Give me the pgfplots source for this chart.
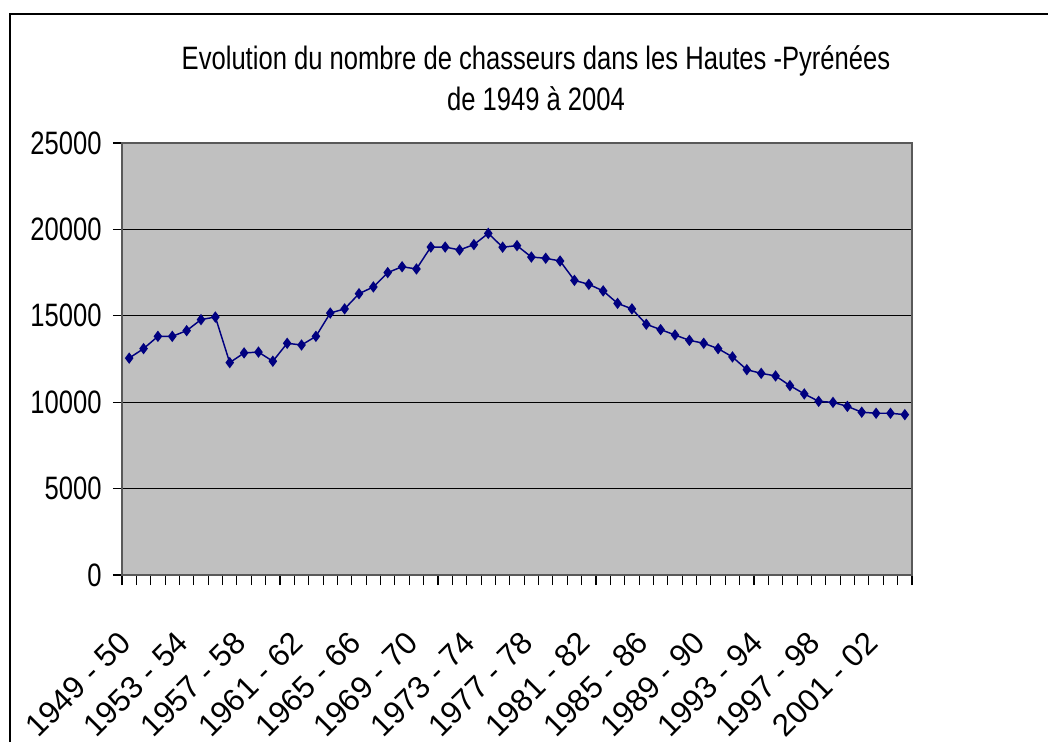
\documentclass[border=0pt]{standalone}
\usepackage{fontspec}
\setmainfont{Liberation Sans}[FakeStretch=0.79]
\newfontfamily\xlabfont{Liberation Sans}
\usepackage{pgfplots}
\pgfplotsset{compat=1.18}
\definecolor{navyline}{RGB}{0,0,128}
\definecolor{plotbg}{RGB}{192,192,192}
\begin{document}
\begin{tikzpicture}[x=0.75pt,y=0.75pt]
\useasboundingbox (0,0) rectangle (1048,742);
\fill[white] (0,0) rectangle (1048,742);
\draw[black,line width=1.1pt] (10,0) -- (10,728) -- (1048,728);
\node[anchor=base,font=\fontsize{24.3}{28}\selectfont] at (536,672) {Evolution du nombre de chasseurs dans les Hautes -Pyrénées};
\node[anchor=base,font=\fontsize{24.3}{28}\selectfont] at (536,631) {de 1949 à 2004};
\begin{axis}[
  at={(91.5pt,125.25pt)}, anchor=south west,
  scale only axis, width=592.5pt, height=324pt,
  xmin=-0.5, xmax=54.5, ymin=0, ymax=25000,
  axis background/.style={fill=plotbg},
  axis line style={draw=gray!70!black, line width=0.8pt},
  ymajorgrids, grid style={black, line width=0.8pt},
  ytick={0,5000,...,25000},
  scaled y ticks=false,
  xtick={0,4,...,52},
  xticklabels={1949 - 50,1953 - 54,1957 - 58,1961 - 62,1965 - 66,1969 - 70,1973 - 74,1977 - 78,1981 - 82,1985 - 86,1989 - 90,1993 - 94,1997 - 98,2001 - 02},
  minor xtick={-0.5,0.5,...,54.5},
  xtick pos=bottom, ytick pos=left,
  tick align=outside,
  major x tick style={draw=none},
  minor x tick style={black, line width=0.8pt},
  y tick style={black, line width=0.8pt},
  minor tick length=7.5pt,
  major tick length=6.75pt,
  yticklabel style={xshift=-5pt, font=\fontsize{24.3}{28}\selectfont},
  xticklabel style={rotate=45, anchor=north east, inner sep=0pt, xshift=-30.5pt, yshift=-17.7pt, font=\xlabfont\fontsize{23.5}{28}\selectfont},
  /pgf/number format/.cd, 1000 sep={}, assume math mode=true,
]
\addplot[navyline, line width=1.1pt, mark=diamond*, mark size=3.4pt, mark options={fill=navyline}] coordinates {
(0,12550)(1,13100)(2,13810)(3,13810)(4,14140)(5,14780)(6,14930)(7,12290)(8,12850)(9,12900)
(10,12370)(11,13410)(12,13310)(13,13810)(14,15160)(15,15400)(16,16280)(17,16670)(18,17500)(19,17840)
(20,17710)(21,18980)(22,18980)(23,18810)(24,19120)(25,19770)(26,18970)(27,19060)(28,18400)(29,18330)
(30,18170)(31,17050)(32,16820)(33,16440)(34,15720)(35,15400)(36,14510)(37,14200)(38,13890)(39,13580)
(40,13410)(41,13100)(42,12620)(43,11880)(44,11670)(45,11520)(46,10960)(47,10480)(48,10050)(49,9990)
(50,9760)(51,9420)(52,9360)(53,9360)(54,9280)
};
\end{axis}
\end{tikzpicture}
\end{document}
